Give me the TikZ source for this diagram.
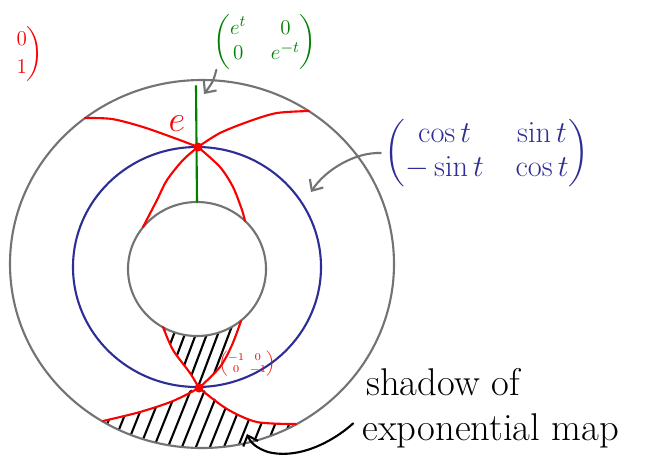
\documentclass[tikz,border=0pt]{standalone}
\usepackage{amsmath,amssymb}
\usetikzlibrary{arrows.meta,calc}

\definecolor{pengrey}{RGB}{115,115,115}
\definecolor{penblue}{RGB}{45,45,150}
\definecolor{pengreen}{RGB}{0,128,0}
\definecolor{penred}{RGB}{250,0,0}

\begin{document}
\begin{tikzpicture}[
    x=0.02cm, y=-0.02cm,
    pen/.style={line width=1.2pt, line cap=round, line join=round},
    ring/.style={pen, draw=pengrey},
    geo/.style={pen, draw=penred},
    hatch/.style={line width=1.2pt, line cap=round, draw=black},
    pointer/.style={pen, -{Straight Barb[length=5pt, width=9pt]}},
    lab/.style={inner sep=0pt}
]
    \useasboundingbox (0,0) rectangle (649,457);

    % shadow, lower wedge
    \begin{scope}
        \clip (202,264) ellipse [x radius=192, y radius=184];
        \clip (90,421) -- plot[smooth] coordinates {(103,421) (140,412) (173,401) (199,388) (227,409) (257,422) (296,424)} -- (330,424) -- (330,470) -- (90,470) -- cycle;
        \foreach \x in {78,92,...,320}
            \draw[hatch] (\x,462) -- ++(40,-100);
    \end{scope}
    % shadow, upper wedge
    \begin{scope}
        \clip (163,300) -- plot[smooth] coordinates {(163,327) (173,350) (190,373) (199,388)} -- plot[smooth] coordinates {(199,388) (220,367) (232,345) (241,321)} -- (241,300) -- cycle;
        \foreach \x in {140,151,...,250}
            \draw[hatch] (\x,395) -- ++(32,-85);
    \end{scope}

    \draw[ring] (202,264) ellipse [x radius=192, y radius=184];
    \draw[pen, draw=penblue] (197,267) ellipse [x radius=124, y radius=120];
    \fill[white] (197,269) ellipse [x radius=69, y radius=67];
    \draw[ring] (197,269) ellipse [x radius=69, y radius=67];

    % one parameter subgroup
    \draw[pen, draw=pengreen] (196,86) -- (197,202);

    % geodesics
    \draw[geo] plot[smooth] coordinates {(85,118) (112,119) (143,127) (177,139) (198,147)};
    \draw[geo] plot[smooth] coordinates {(198,147) (220,133) (250,121) (277,113) (309,111)};
    \draw[geo] plot[smooth] coordinates {(198,147) (183,160) (167,180) (157,200) (143,227)};
    \draw[geo] plot[smooth] coordinates {(198,147) (220,167) (233,187) (242,210) (245,221)};
    \draw[geo] plot[smooth] coordinates {(163,327) (173,350) (190,373) (199,388)};
    \draw[geo] plot[smooth] coordinates {(241,321) (232,345) (220,367) (199,388)};
    \draw[geo] plot[smooth] coordinates {(199,388) (173,401) (140,412) (103,421)};
    \draw[geo] plot[smooth] coordinates {(199,388) (227,409) (257,422) (296,424)};

    \fill[penred] (198,147) circle[radius=4.5];
    \fill[penred] (199,388) circle[radius=4.5];

    % labels
    \node[lab, text=penred, anchor=east] (corner) at (44,54)
        {\fontsize{13}{16}\selectfont $\left.\begin{matrix}0\\1\end{matrix}\right)$};
    \node[lab, text=pengreen] (gmat) at (265,42)
        {\fontsize{13}{16}\selectfont \setlength{\arraycolsep}{7pt}\renewcommand{\arraystretch}{0.9}$\begin{pmatrix}e^{t} & 0\\ 0 & e^{-t}\end{pmatrix}$};
    \node[lab, text=penred] (unit) at (177,124) {\fontsize{22}{22}\selectfont $e$};
    \node[lab, text=penblue] (bmat) at (487,153)
        {\fontsize{16}{19}\selectfont \setlength{\arraycolsep}{9pt}$\begin{pmatrix}\cos t & \sin t\\ -\sin t & \cos t\end{pmatrix}$};
    \node[lab, text=penred] (flip) at (247,364)
        {\fontsize{6}{7}\selectfont \setlength{\arraycolsep}{1.5pt}$\begin{pmatrix}-1 & 0\\ 0 & -1\end{pmatrix}$};
    \node[lab, anchor=base west] (shadowa) at (366,395) {\fontsize{22}{25}\selectfont shadow of};
    \node[lab, anchor=base west] (shadowb) at (362,440) {\fontsize{22}{25}\selectfont exponential map};

    % pointers
    \coordinate (linetip) at (204,94);
    \coordinate (ringtip) at (311,192);
    \coordinate (shadowtip) at (247,434);
    \draw[pointer, draw=pengrey] ([xshift=2pt]gmat.south west) .. controls (213,82) .. (linetip);
    \draw[pointer, draw=pengrey] ([xshift=-2pt]bmat.west) .. controls (355,152) and (325,170) .. (ringtip);
    \draw[pointer, draw=black] ([xshift=-5pt,yshift=4pt]shadowb.west) .. controls (335,440) and (300,460) .. (268,452) .. controls (256,448) and (250,442) .. (shadowtip);
\end{tikzpicture}
\end{document}
